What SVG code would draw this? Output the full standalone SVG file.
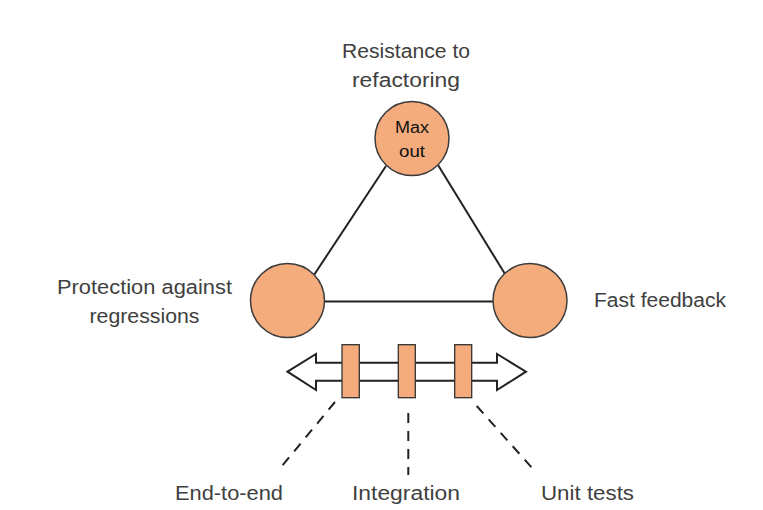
<svg xmlns="http://www.w3.org/2000/svg" width="763" height="510" viewBox="0 0 763 510">
<style>
.node{fill:#F4AC7C;stroke:#3c3c3c;stroke-width:1.5}
.lbl{font-family:"Liberation Sans",Arial,sans-serif;font-size:20px;fill:#404040}
.in{font-family:"Liberation Sans",Arial,sans-serif;font-size:16px;fill:#111}
.edge{stroke:#222;stroke-width:2;fill:none}
.dash{stroke:#222;stroke-width:2;fill:none;stroke-dasharray:10 8}
.bar{fill:#F4AC7C;stroke:#333;stroke-width:1.3}
</style>
<rect width="763" height="510" fill="#fff"/>
<g id="connectors">
<line class="edge" x1="386" y1="166" x2="314" y2="275"/>
<line class="edge" x1="438" y1="165" x2="505" y2="274"/>
<line class="edge" x1="324" y1="301.5" x2="493" y2="301.5"/>
</g>
<g id="node-top">
<circle class="node" cx="412" cy="138.5" r="37"/>
<text class="in" x="412" y="133" text-anchor="middle" textLength="34" lengthAdjust="spacingAndGlyphs">Max</text>
<text class="in" x="412" y="157" text-anchor="middle" textLength="26" lengthAdjust="spacingAndGlyphs">out</text>
<text class="lbl" x="406" y="58" text-anchor="middle" textLength="128" lengthAdjust="spacingAndGlyphs">Resistance to</text>
<text class="lbl" x="406" y="87" text-anchor="middle" textLength="108" lengthAdjust="spacingAndGlyphs">refactoring</text>
</g>
<g id="node-left">
<circle class="node" cx="287.5" cy="300.5" r="37"/>
<text class="lbl" x="144.5" y="294" text-anchor="middle" textLength="175" lengthAdjust="spacingAndGlyphs">Protection against</text>
<text class="lbl" x="144.5" y="323" text-anchor="middle" textLength="110" lengthAdjust="spacingAndGlyphs">regressions</text>
</g>
<g id="node-right">
<circle class="node" cx="530" cy="300.5" r="37"/>
<text class="lbl" x="594" y="307" textLength="132" lengthAdjust="spacingAndGlyphs">Fast feedback</text>
</g>
<g id="spectrum">
<path d="M287.5,371.7 L316,354 L316,362.7 L497,362.7 L497,354 L526,371.7 L497,390 L497,380.7 L316,380.7 L316,390 Z" fill="#fff" stroke="#222" stroke-width="2" stroke-linejoin="miter"/>
<rect class="bar" x="342" y="344.7" width="17.3" height="53"/>
<rect class="bar" x="398.3" y="344.7" width="17" height="53"/>
<rect class="bar" x="454.7" y="344.7" width="17" height="53"/>
</g>
<g id="dashed-connectors">
<line class="dash" x1="335" y1="402" x2="279.5" y2="469"/>
<line class="dash" x1="408.3" y1="413" x2="408.3" y2="475"/>
<line class="dash" x1="476.7" y1="406" x2="533" y2="469"/>
</g>
<g id="label-e2e"><text class="lbl" x="229" y="500" text-anchor="middle" textLength="108" lengthAdjust="spacingAndGlyphs">End-to-end</text></g>
<g id="label-integration"><text class="lbl" x="406" y="500" text-anchor="middle" textLength="108" lengthAdjust="spacingAndGlyphs">Integration</text></g>
<g id="label-unit"><text class="lbl" x="587.5" y="500" text-anchor="middle" textLength="93" lengthAdjust="spacingAndGlyphs">Unit tests</text></g>
</svg>
